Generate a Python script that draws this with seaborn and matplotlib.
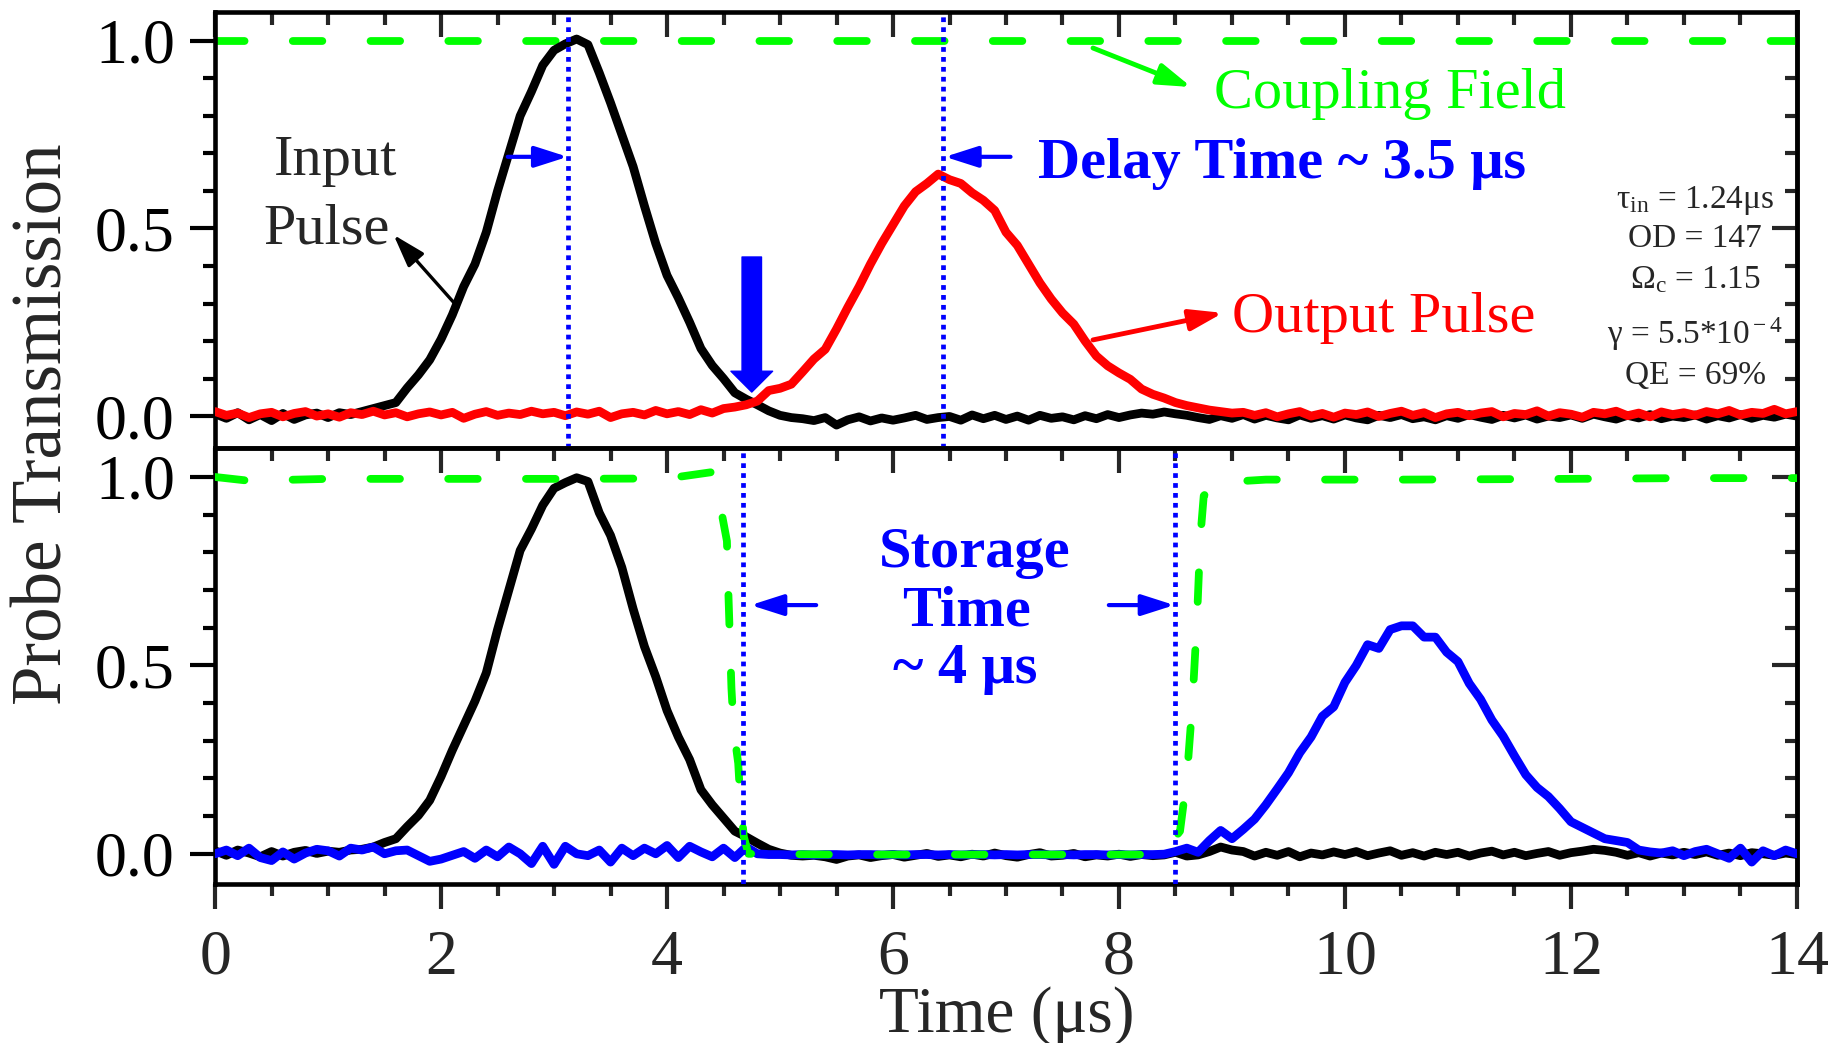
import matplotlib
matplotlib.use('Agg')
import matplotlib.pyplot as plt
import seaborn as sns
from matplotlib.ticker import MultipleLocator

sns.set_style('ticks')
plt.rcParams['font.family'] = ['Liberation Serif', 'DejaVu Serif']
plt.rcParams['mathtext.fontset'] = 'custom'
plt.rcParams['mathtext.rm'] = 'Liberation Serif'
plt.rcParams['mathtext.it'] = 'Liberation Serif:italic'
plt.rcParams['mathtext.bf'] = 'Liberation Serif:bold'

# sample times (us)
t = [0.0, 0.1, 0.2, 0.3, 0.4, 0.5, 0.6, 0.7, 0.8, 0.9,
     1.0, 1.1, 1.2, 1.3, 1.4, 1.5, 1.6, 1.7, 1.8, 1.9,
     2.0, 2.1, 2.2, 2.3, 2.4, 2.5, 2.6, 2.7, 2.8, 2.9,
     3.0, 3.1, 3.2, 3.3, 3.4, 3.5, 3.6, 3.7, 3.8, 3.9,
     4.0, 4.1, 4.2, 4.3, 4.4, 4.5, 4.6, 4.7, 4.8, 4.9,
     5.0, 5.1, 5.2, 5.3, 5.4, 5.5, 5.6, 5.7, 5.8, 5.9,
     6.0, 6.1, 6.2, 6.3, 6.4, 6.5, 6.6, 6.7, 6.8, 6.9,
     7.0, 7.1, 7.2, 7.3, 7.4, 7.5, 7.6, 7.7, 7.8, 7.9,
     8.0, 8.1, 8.2, 8.3, 8.4, 8.5, 8.6, 8.7, 8.8, 8.9,
     9.0, 9.1, 9.2, 9.3, 9.4, 9.5, 9.6, 9.7, 9.8, 9.9,
     10.0, 10.1, 10.2, 10.3, 10.4, 10.5, 10.6, 10.7, 10.8, 10.9,
     11.0, 11.1, 11.2, 11.3, 11.4, 11.5, 11.6, 11.7, 11.8, 11.9,
     12.0, 12.1, 12.2, 12.3, 12.4, 12.5, 12.6, 12.7, 12.8, 12.9,
     13.0, 13.1, 13.2, 13.3, 13.4, 13.5, 13.6, 13.7, 13.8, 13.9,
     14.0]

# top panel: input pulse (black) and slowed output pulse (red)
top_input = [0.006, -0.006, 0.009, -0.010, 0.004, -0.012, 0.007, -0.009, 0.003, 0.008,
             -0.004, 0.009, 0.004, 0.012, 0.020, 0.028, 0.036, 0.075, 0.110, 0.150,
             0.205, 0.270, 0.345, 0.405, 0.490, 0.600, 0.700, 0.800, 0.865, 0.935,
             0.975, 0.992, 1.005, 0.990, 0.915, 0.835, 0.750, 0.665, 0.560, 0.460,
             0.375, 0.315, 0.250, 0.180, 0.135, 0.100, 0.062, 0.045, 0.030, 0.014,
             0.002, -0.004, -0.007, -0.012, -0.004, -0.024, -0.010, -0.002, -0.013, -0.005,
             -0.011, -0.005, 0.002, -0.009, -0.004, -0.001, -0.011, 0.003, -0.007, 0.002,
             -0.009, 0.000, -0.011, 0.002, -0.006, -0.002, -0.010, 0.001, -0.007, 0.004,
             -0.004, 0.003, 0.008, 0.005, 0.011, 0.006, 0.002, -0.004, -0.009, 0.001,
             -0.006, 0.004, -0.008, 0.002, -0.005, -0.010, 0.003, -0.006, 0.001, -0.008,
             0.003, -0.005, -0.010, 0.002, -0.004, 0.004, -0.007, -0.002, -0.010, 0.001,
             -0.006, 0.004, -0.003, -0.009, 0.002, -0.005, 0.003, -0.008, 0.000, -0.004,
             0.003, -0.006, 0.005, -0.002, -0.008, 0.002, -0.005, 0.004, -0.007, 0.000,
             -0.004, 0.003, -0.008, 0.001, -0.005, 0.004, -0.006, 0.002, -0.003, 0.005,
             0.000]
top_output = [0.012, 0.002, 0.008, -0.004, 0.006, 0.010, -0.002, 0.007, 0.012, 0.000,
              0.006, -0.003, 0.009, 0.004, 0.013, 0.003, 0.009, -0.002, 0.006, 0.011,
              0.003, 0.010, -0.006, 0.005, 0.012, 0.002, 0.008, 0.004, 0.013, 0.006,
              0.010, 0.001, 0.011, 0.005, 0.013, -0.004, 0.006, 0.010, 0.003, 0.015,
              0.006, 0.012, 0.004, 0.017, 0.008, 0.020, 0.024, 0.030, 0.040, 0.068,
              0.074, 0.085, 0.118, 0.152, 0.178, 0.232, 0.290, 0.345, 0.405, 0.460,
              0.510, 0.560, 0.598, 0.620, 0.645, 0.630, 0.620, 0.595, 0.575, 0.548,
              0.490, 0.455, 0.405, 0.355, 0.312, 0.275, 0.245, 0.200, 0.160, 0.134,
              0.115, 0.098, 0.072, 0.058, 0.048, 0.036, 0.028, 0.022, 0.016, 0.012,
              0.008, 0.010, 0.002, 0.009, -0.002, 0.006, 0.012, 0.000, 0.007, -0.003,
              0.008, 0.004, 0.011, -0.001, 0.007, 0.013, 0.002, 0.009, -0.004, 0.006,
              0.010, 0.001, 0.008, 0.012, -0.002, 0.007, 0.004, 0.014, 0.000, 0.009,
              0.005, -0.003, 0.010, 0.006, 0.013, 0.001, 0.008, -0.002, 0.011, 0.004,
              0.009, 0.002, 0.012, 0.006, 0.015, 0.003, 0.010, 0.007, 0.018, 0.006,
              0.012]

# bottom panel: input pulse (black) and retrieved pulse (blue)
bottom_input = [0.008, -0.004, 0.010, 0.002, -0.008, 0.006, -0.006, 0.004, 0.009, 0.001,
                0.007, 0.004, 0.010, 0.012, 0.018, 0.030, 0.040, 0.072, 0.102, 0.142,
                0.205, 0.275, 0.340, 0.405, 0.480, 0.595, 0.700, 0.805, 0.862, 0.925,
                0.970, 0.985, 0.998, 0.988, 0.905, 0.845, 0.760, 0.650, 0.550, 0.470,
                0.380, 0.310, 0.250, 0.170, 0.130, 0.095, 0.060, 0.045, 0.028, 0.012,
                0.002, -0.004, -0.006, -0.004, -0.008, -0.015, -0.006, -0.003, -0.010, -0.005,
                -0.002, -0.009, -0.004, 0.001, -0.007, -0.003, -0.008, -0.001, -0.006, 0.002,
                -0.005, -0.009, -0.002, 0.003, -0.006, -0.004, 0.001, -0.008, -0.003, -0.006,
                -0.001, -0.007, -0.002, -0.005, -0.003, 0.004, -0.006, -0.003, 0.006, 0.018,
                0.010, 0.006, -0.006, 0.004, -0.004, 0.006, -0.008, 0.002, -0.003, 0.005,
                -0.002, 0.006, -0.005, 0.002, 0.008, -0.004, 0.003, -0.006, 0.004, -0.002,
                0.004, -0.006, 0.002, 0.007, -0.003, 0.004, -0.005, 0.001, 0.006, -0.004,
                0.003, 0.007, 0.012, 0.009, 0.004, -0.004, 0.003, -0.006, 0.002, -0.003,
                0.004, -0.002, 0.005, -0.004, 0.002, -0.005, 0.003, 0.000, -0.004, 0.002,
                -0.002]
bottom_output = [0.000, 0.010, -0.005, 0.015, -0.010, -0.018, 0.005, -0.014, 0.002, 0.012,
                 0.008, -0.006, 0.015, 0.010, 0.018, 0.000, 0.008, 0.010, -0.005, -0.020,
                 -0.014, -0.004, 0.006, -0.012, 0.010, -0.008, 0.018, 0.000, -0.026, 0.020,
                 -0.028, 0.020, 0.000, -0.005, 0.010, -0.022, 0.015, -0.005, 0.015, 0.000,
                 0.022, -0.010, 0.020, 0.005, -0.008, 0.015, -0.010, 0.018, 0.000, -0.002,
                 -0.002, -0.003, -0.002, -0.003, -0.002, -0.002, -0.003, -0.002, -0.002, -0.003,
                 -0.002, -0.003, -0.002, -0.002, -0.003, -0.002, -0.003, -0.002, -0.002, -0.003,
                 -0.002, -0.003, -0.002, -0.002, -0.003, -0.002, -0.003, -0.002, -0.002, -0.003,
                 -0.002, -0.003, -0.002, -0.002, -0.001, 0.006, 0.015, 0.004, 0.035, 0.062,
                 0.040, 0.065, 0.092, 0.130, 0.172, 0.215, 0.268, 0.310, 0.365, 0.390,
                 0.455, 0.500, 0.555, 0.545, 0.595, 0.605, 0.605, 0.575, 0.575, 0.535,
                 0.510, 0.452, 0.410, 0.355, 0.312, 0.260, 0.210, 0.176, 0.152, 0.120,
                 0.085, 0.070, 0.055, 0.040, 0.035, 0.030, 0.010, 0.005, 0.002, 0.008,
                 -0.005, 0.006, 0.012, 0.000, -0.012, 0.015, -0.022, 0.008, -0.005, 0.010,
                 0.000]

# coupling field (green dashed)
top_coupling_t = [0.0, 14.0]
top_coupling = [1.0, 1.0]
bottom_coupling_t = [0.0, 0.3, 1.0, 2.0, 3.0, 4.0, 4.40, 4.48, 4.53, 4.54, 4.57, 4.59,
                     4.63, 4.65, 4.68, 4.72, 5.5, 6.5, 7.5, 8.38, 8.54, 8.60, 8.65,
                     8.69, 8.72, 8.75, 8.86, 9.3, 10.5, 12.0, 13.0, 14.0]
bottom_coupling = [1.0, 0.99, 0.995, 0.995, 0.995, 0.996, 1.013, 0.91, 0.83, 0.72, 0.44, 0.33,
                   0.24, 0.135, 0.045, 0.0, -0.002, -0.002, -0.002, -0.002, 0.06, 0.20, 0.40,
                   0.62, 0.84, 0.95, 0.985, 0.993, 0.993, 0.995, 0.997, 0.997]

delay_marks = [3.12, 6.44]
storage_marks = [4.67, 8.50]

params = [r'τ$_{\rm in}$ = 1.24μs', 'OD = 147', r'Ω$_{\rm c}$ = 1.15',
          r'γ = 5.5*10$^{\rm -4}$', 'QE = 69%']

GREEN = '#00ff00'
BLUE = '#0000ff'
RED = '#ff0000'
LW = 6.3

fig = plt.figure(figsize=(18.43, 10.43), dpi=100)
ax1 = fig.add_axes([0.1167, 0.5705, 0.8583, 0.4180])
ax2 = fig.add_axes([0.1167, 0.1525, 0.8583, 0.4180])


def frame(ax, bottom_panel):
    ax.set_xlim(0, 14)
    ax.xaxis.set_major_locator(MultipleLocator(2))
    ax.xaxis.set_minor_locator(MultipleLocator(0.5))
    ax.yaxis.set_major_locator(MultipleLocator(0.5))
    ax.yaxis.set_minor_locator(MultipleLocator(0.1))
    for s in ax.spines.values():
        s.set_visible(True)
        s.set_linewidth(3.3)
        s.set_color('black')
    ax.tick_params(axis='y', which='both', left=True, right=False, direction='out',
                   width=3, labelsize=46, pad=11, colors='black')
    ax.tick_params(axis='y', which='major', length=18)
    ax.tick_params(axis='y', which='minor', length=8.5)
    sec = ax.secondary_yaxis('right')
    sec.yaxis.set_major_locator(MultipleLocator(0.5))
    sec.yaxis.set_minor_locator(MultipleLocator(0.1))
    sec.tick_params(which='both', direction='in', width=3, labelright=False)
    sec.tick_params(which='major', length=18)
    sec.tick_params(which='minor', length=8.5)
    sec.spines['right'].set_linewidth(3.3)
    if bottom_panel:
        ax.tick_params(axis='x', which='both', bottom=True, top=False, direction='out',
                       width=3, labelsize=46, pad=15)
        ax.tick_params(axis='x', which='major', length=18)
        ax.tick_params(axis='x', which='minor', length=8.5)
        sx = ax.secondary_xaxis('top')
        sx.xaxis.set_major_locator(MultipleLocator(2))
        sx.xaxis.set_minor_locator(MultipleLocator(0.5))
        sx.tick_params(which='both', direction='in', width=3, labeltop=False)
        sx.tick_params(which='major', length=18)
        sx.tick_params(which='minor', length=9)
        sx.spines['top'].set_linewidth(3.3)
    else:
        ax.tick_params(axis='x', which='both', bottom=False, top=True, direction='in',
                       width=3, labelbottom=False, labeltop=False)
        ax.tick_params(axis='x', which='major', length=18)
        ax.tick_params(axis='x', which='minor', length=9)


def dashed(line):
    line.set_dashes((3.8, 6.2))
    line.set_dash_capstyle('round')


def arrow(ax, tail, tip, color, lw=3):
    ax.annotate('', xy=tip, xytext=tail,
                arrowprops=dict(arrowstyle='-|>,head_length=1.0,head_width=0.32',
                                color=color, lw=lw, mutation_scale=20,
                                shrinkA=0, shrinkB=0))


# ---- top panel ----
sns.lineplot(x=top_coupling_t, y=top_coupling, ax=ax1, color=GREEN, linewidth=5.6,
             errorbar=None, zorder=1)
dashed(ax1.lines[-1])
sns.lineplot(x=t, y=top_input, ax=ax1, color='black', linewidth=LW, errorbar=None, zorder=2)
sns.lineplot(x=t, y=top_output, ax=ax1, color=RED, linewidth=LW, errorbar=None, zorder=3)
for xm in delay_marks:
    ax1.axvline(xm, color=BLUE, lw=3.4, linestyle=(0, (1, 1.1)), zorder=4)
ax1.set_ylim(-0.085, 1.077)
frame(ax1, False)

ax1.text(10.40, 0.821, 'Coupling Field', color=GREEN, fontsize=42, ha='center', va='baseline')
ax1.text(9.44, 0.635, 'Delay Time ~ 3.5 μs', color=BLUE, fontsize=42, fontweight='bold',
         ha='center', va='baseline')
ax1.text(10.34, 0.224, 'Output Pulse', color=RED, fontsize=42, ha='center', va='baseline')
ax1.text(1.07, 0.643, 'Input', fontsize=42, ha='center', va='baseline')
ax1.text(0.99, 0.461, 'Pulse', fontsize=42, ha='center', va='baseline')
for label, yb in zip(params, [0.555, 0.451, 0.341, 0.192, 0.085]):
    ax1.text(13.1, yb, label, fontsize=24, ha='center', va='baseline')

arrow(ax1, (2.15, 0.29), (1.58, 0.483), 'black', lw=2.4)
arrow(ax1, (2.59, 0.691), (3.12, 0.691), BLUE)
arrow(ax1, (7.04, 0.691), (6.46, 0.691), BLUE)
arrow(ax1, (7.77, 0.981), (8.64, 0.877), GREEN, lw=3.5)
arrow(ax1, (7.77, 0.203), (8.92, 0.275), RED, lw=3.5)
ax1.annotate('', xy=(4.75, 0.064), xytext=(4.75, 0.424),
             arrowprops=dict(facecolor=BLUE, edgecolor=BLUE, width=14, headwidth=30,
                             headlength=15, shrink=0))

# ---- bottom panel ----
sns.lineplot(x=t, y=bottom_input, ax=ax2, color='black', linewidth=LW, errorbar=None, zorder=2)
sns.lineplot(x=t, y=bottom_output, ax=ax2, color=BLUE, linewidth=LW, errorbar=None, zorder=3)
sns.lineplot(x=bottom_coupling_t, y=bottom_coupling, ax=ax2, color=GREEN, linewidth=5.6,
             errorbar=None, sort=False, zorder=4)
dashed(ax2.lines[-1])
for xm in storage_marks:
    ax2.axvline(xm, color=BLUE, lw=3.4, linestyle=(0, (1, 1.1)), zorder=5)
ax2.set_ylim(-0.08, 1.077)
frame(ax2, True)

ax2.text(6.72, 0.761, 'Storage', color=BLUE, fontsize=42, fontweight='bold', ha='center', va='baseline')
ax2.text(6.65, 0.607, 'Time', color=BLUE, fontsize=42, fontweight='bold', ha='center', va='baseline')
ax2.text(6.64, 0.454, '~ 4 μs', color=BLUE, fontsize=42, fontweight='bold', ha='center', va='baseline')
arrow(ax2, (5.32, 0.66), (4.74, 0.66), BLUE)
arrow(ax2, (7.91, 0.66), (8.49, 0.66), BLUE)

ax1.set_xlabel('')
ax1.set_ylabel('')
ax2.set_xlabel('')
ax2.set_ylabel('')
fig.text(0.546, 0.0105, 'Time (μs)', fontsize=47, ha='center', va='baseline')
fig.text(0.0336, 0.593, 'Probe Transmission', fontsize=51, rotation=90,
         rotation_mode='anchor', ha='center', va='baseline')

fig.savefig('out.png', dpi=100)
